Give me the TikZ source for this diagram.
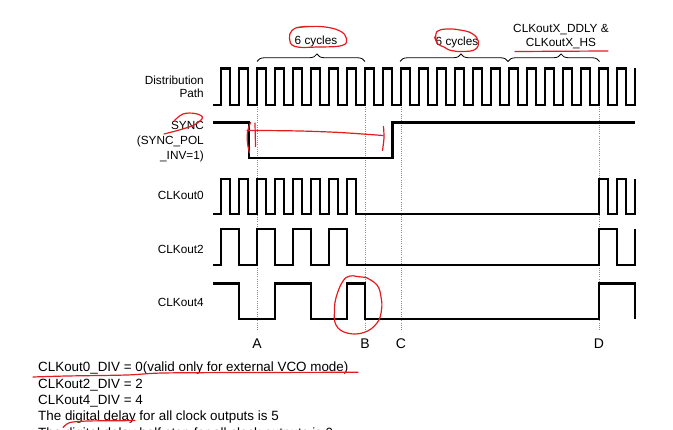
\documentclass[tikz,border=0pt]{standalone}
\usepackage{fontspec}
\setmainfont{Liberation Sans}
\usetikzlibrary{decorations.pathreplacing}
\definecolor{ink}{RGB}{228,28,32}
\definecolor{guide}{RGB}{140,140,140}
\begin{document}
\begin{tikzpicture}[x=1pt,y=-1pt,
  wave/.style={line width=2.8pt, line join=miter, line cap=butt},
  guideline/.style={guide, dash pattern=on 1pt off 1.2pt, line width=0.9pt},
  lbl/.style={inner sep=0pt, font=\fontsize{11.8}{14}\selectfont, anchor=base east},
  toplbl/.style={inner sep=0pt, font=\fontsize{11.8}{14}\selectfont, anchor=base},
  evtlbl/.style={inner sep=0pt, font=\fontsize{14}{16}\selectfont, anchor=base},
  note/.style={inner sep=0pt, font=\fontsize{13.4}{16}\selectfont, anchor=base west},
  bracepath/.style={decorate, line width=0.8pt},
  redink/.style={ink, line width=1.2pt, line cap=round, line join=round}]
\fill[white] (0,0) rectangle (673,430);
\clip (0,0) rectangle (673,430);
\useasboundingbox (0,0) rectangle (673,430);

% guide lines
\coordinate (Atop) at (257,107); \coordinate (Abot) at (257,331);
\coordinate (Btop) at (365,107); \coordinate (Bbot) at (365,331);
\coordinate (Ctop) at (401,107); \coordinate (Cbot) at (401,331);
\coordinate (Dtop) at (599,107); \coordinate (Dbot) at (599,331);
\draw[guideline] (Atop) -- (Abot);
\draw[guideline] (Btop) -- (Bbot);
\draw[guideline] (Ctop) -- (Cbot);
\draw[guideline] (Dtop) -- (Dbot);

% Distribution path
\draw[wave] (213,105) \foreach \k in {0,...,22}{ -- ({221+18*\k},105) -- ({221+18*\k},68.5) -- ({230+18*\k},68.5) -- ({230+18*\k},105)} -- (635,105) -- (635,68.5);
% SYNC
\draw[wave] (213,122.7) -- (249,122.7) -- (249,158) -- (392.5,158) -- (392.5,122.7) -- (635,122.7);
% CLKout0
\draw[wave] (213,214) \foreach \k in {0,...,7}{ -- ({221+18*\k},214) -- ({221+18*\k},179) -- ({230+18*\k},179) -- ({230+18*\k},214)} -- (599,214) -- (599,179) -- (608,179) -- (608,214) -- (617,214) -- (617,179) -- (626,179) -- (626,214) -- (635,214) -- (635,179);
% CLKout2
\draw[wave] (213,265) \foreach \k in {0,...,3}{ -- ({221+36*\k},265) -- ({221+36*\k},229) -- ({239+36*\k},229) -- ({239+36*\k},265)} -- (599,265) -- (599,229) -- (617,229) -- (617,265) -- (635,265) -- (635,229);
% CLKout4
\draw[wave] (213,283.3) -- (239,283.3) -- (239,319) -- (275,319) -- (275,283.3) -- (311,283.3) -- (311,319) -- (347,319) -- (347,283.3) -- (365,283.3) -- (365,319) -- (599,319) -- (599,283.3) -- (635,283.3) -- (635,319);

% braces
\coordinate (b1l) at (257,61.5); \coordinate (b1r) at (365,61.5);
\coordinate (b2l) at (400,61.5); \coordinate (b2r) at (508,61.5);
\coordinate (b3r) at (599.5,61.5);
\draw[bracepath, decoration={brace, amplitude=7.5pt, aspect=0.555}] (b1l) -- (b1r);
\draw[bracepath, decoration={brace, amplitude=7.5pt, aspect=0.565}] (b2l) -- (b2r);
\draw[bracepath, decoration={brace, amplitude=7.5pt, aspect=0.58}] (b2r) -- (b3r);

% top labels
\node[toplbl] (cyc1) at (316,45) {6 cycles};
\node[toplbl] (cyc2) at (457,45.7) {6 cycles};
\node[toplbl] (ddly) at (561,32.5) {CLKoutX\_DDLY \&};
\node[toplbl] (hs) at (561,46.5) {CLKoutX\_HS};

% signal labels
\node[lbl] (dp1) at (204,85) {Distribution};
\node[lbl] (dp2) at (204,98) {Path};
\node[lbl] (sy1) at (204,130) {SYNC};
\node[lbl] (sy2) at (204,145) {(SYNC\_POL};
\node[lbl] (sy3) at (204,159.5) {\_INV=1)};
\node[lbl] (c0) at (204,199.5) {CLKout0};
\node[lbl] (c2) at (204,253.5) {CLKout2};
\node[lbl] (c4) at (204,306.5) {CLKout4};

% event letters
\node[evtlbl] (evA) at (257,349) {A};
\node[evtlbl] (evB) at (365,349) {B};
\node[evtlbl] (evC) at (401,349) {C};
\node[evtlbl] (evD) at (599,349) {D};

% notes
\node[note] (n1) at (38,371.7) {CLKout0\_DIV = 0(valid only for external VCO mode)};
\node[note] (n2) at (38,388.3) {CLKout2\_DIV = 2};
\node[note] (n3) at (38,404.5) {CLKout4\_DIV = 4};
\node[note] (n4) at (38,420.7) {The digital delay for all clock outputs is 5};
\node[note] (n5) at (38,437.2) {The digital delay half step for all clock outputs is 0};

% red hand annotations
\draw[redink] plot[smooth, tension=0.7] coordinates {(298,27.5) (320,26.5) (339,30.5) (346.5,38.5) (342,45.5) (318,47) (295,46.5) (289.5,38.5) (292,30.5) (300,27) (314,26.5)};
\draw[redink] plot[smooth, tension=0.7] coordinates {(436,40) (437,31.5) (447,29) (460,30) (472,33.5) (478.5,41.5) (475,49.5) (463,51.5) (451,50.5) (444,47) (438,44) (434.5,37)};
\draw[redink] (515,51.5) -- (608,51);
\draw[redink] plot[smooth, tension=0.6] coordinates {(174,121) (183,114) (195,113.5) (202.5,117.5) (195,124.5) (181,129.5) (164,134)};
\draw[redink] plot[smooth, tension=0.6] coordinates {(250.5,122.5) (247.5,132) (247.5,143) (249.5,153)};
\draw[redink] (255,123) -- (255.5,146.5);
\draw[redink] plot[smooth, tension=0.5] coordinates {(247,130.5) (260,130.5) (300,131) (340,132.5) (383,135.5)};
\draw[redink] plot[smooth, tension=0.5] coordinates {(383.5,126.5) (384,138) (382.5,150.5)};
\draw[redink] plot[smooth, tension=0.7] coordinates {(366,277.5) (377,285) (381,297) (381.5,310) (377,323) (364,332.5) (347,333) (336,325) (334.5,310) (336.5,296) (343,281) (350,276) (357,276.5) (366,277.5)};
\draw[redink] plot[smooth, tension=0.5] coordinates {(33,377) (67,376) (127,375) (163,373) (250,372.5) (358,372.3)};
\draw[redink] plot[smooth, tension=0.5] coordinates {(63,427.5) (70,422.5) (88,421) (115,420.8) (135,420.5)};
\end{tikzpicture}
\end{document}
